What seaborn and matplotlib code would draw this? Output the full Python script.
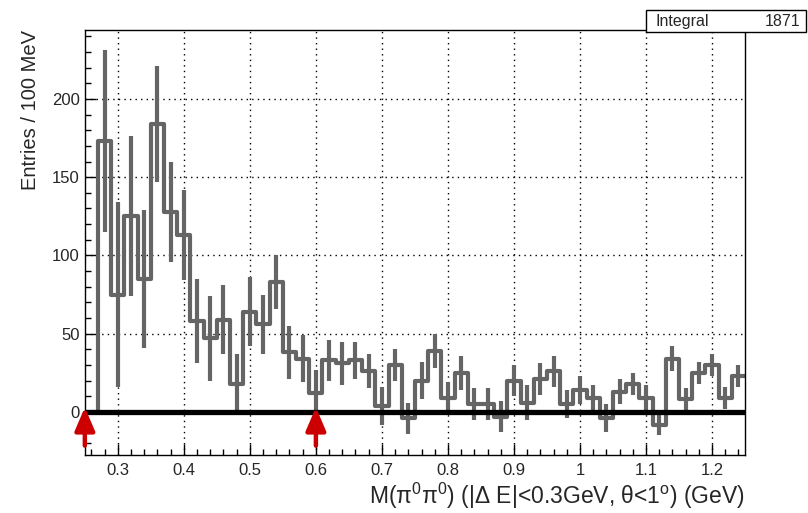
import numpy as np
import pandas as pd
import seaborn as sns
import matplotlib
matplotlib.use("Agg")
import matplotlib.pyplot as plt
from matplotlib.ticker import MultipleLocator
from matplotlib.patches import Rectangle

# histogram contents, 50 bins of 20 MeV from 0.25 to 1.25 GeV
bin_edges = np.round(np.arange(0.25, 1.2501, 0.02), 4)
counts = [0, 173, 75, 125, 85, 184, 128, 113, 58, 47,
          59, 18, 64, 56, 83, 38, 34, 12, 33, 31,
          33, 26, 4, 30, -4, 20, 39, 9, 25, 5,
          5, -3, 20, 6, 21, 26, 5, 14, 9, -4,
          13, 18, 9, -8, 34, 8, 25, 30, 9, 23]
errors = [0, 58, 59, 51, 44, 37, 32, 29, 27, 27,
          22, 19, 22, 19, 17, 17, 15, 15, 13, 14,
          12, 11, 12, 10, 10, 12, 11, 10, 11, 10,
          10, 10, 10, 11, 10, 10, 9, 9, 8, 9,
          8, 7, 8, 7, 8, 7, 7, 7, 7, 7]
cut_positions = [0.25, 0.6]
integral_label = "1871"

centers = (bin_edges[:-1] + bin_edges[1:]) / 2
df = pd.DataFrame({"mass": centers, "entries": counts, "err": errors})

sns.set_theme(style="white")
plt.rcParams['font.family'] = ['Liberation Sans', 'DejaVu Sans']
plt.rcParams['mathtext.fontset'] = 'custom'
plt.rcParams['mathtext.rm'] = 'Liberation Sans'
plt.rcParams['mathtext.it'] = 'Liberation Sans:italic'

fig = plt.figure(figsize=(8.08, 5.13), dpi=100)
ax = fig.add_axes([0.105, 0.113, 0.817, 0.8285])

hist_color = "#656565"
sns.histplot(data=df, x="mass", weights="entries", bins=bin_edges.tolist(), element="step",
             fill=False, color=hist_color, linewidth=3, ax=ax)
ax.errorbar(df["mass"], df["entries"], yerr=df["err"], fmt='none', ecolor=hist_color,
            elinewidth=3, capsize=0)

ax.axhline(0, color="black", linewidth=3.8, zorder=5)

# cut markers
for xc in cut_positions:
    ax.annotate('', xy=(xc, 3), xytext=(xc, -21.5),
                arrowprops=dict(arrowstyle='-|>,head_length=0.7,head_width=0.3',
                                color='#cc0000', lw=3.2, mutation_scale=20,
                                shrinkA=0, shrinkB=0),
                annotation_clip=False, zorder=6)

ax.set_xlim(0.25, 1.25)
ax.set_ylim(-27.5, 244)
ax.xaxis.set_major_locator(MultipleLocator(0.1))
ax.xaxis.set_minor_locator(MultipleLocator(0.02))
ax.yaxis.set_major_locator(MultipleLocator(50))
ax.yaxis.set_minor_locator(MultipleLocator(10))
ax.set_xticks(np.round(np.arange(0.3, 1.21, 0.1), 2))
ax.set_xticklabels(["0.3", "0.4", "0.5", "0.6", "0.7", "0.8", "0.9", "1", "1.1", "1.2"])
ax.tick_params(which='both', direction='in', left=True, bottom=True, top=False, right=False,
               color='black', labelsize=12)
ax.tick_params(which='major', length=8, width=1)
ax.tick_params(which='minor', length=4, width=1)
ax.tick_params(axis='x', pad=6)

ax.grid(which='major', color='black', linestyle=(0, (1, 3)), linewidth=1)
for s in ax.spines.values():
    s.set_color('black')
    s.set_linewidth(1)

ax.set_xlabel(r"M($\mathrm{\pi}^{0}\mathrm{\pi}^{0}$) (|$\mathrm{\Delta}$ E|<0.3GeV, $\mathrm{\theta}$<1$^{\mathrm{o}}$) (GeV)",
              fontsize=16.5, loc='right', labelpad=2)
ax.set_ylabel("Entries / 100 MeV", fontsize=14.5, loc='top', labelpad=9)

# stats box
fig.patches.append(Rectangle((0.7995, 0.938), 0.198, 0.042, transform=fig.transFigure,
                             facecolor='white', edgecolor='black', linewidth=1, zorder=10))
fig.text(0.811, 0.959, "Integral", fontsize=11.5, va='center', ha='left', zorder=11)
fig.text(0.991, 0.959, integral_label, fontsize=11.5, va='center', ha='right', zorder=11)

fig.savefig("out.png", dpi=100)
